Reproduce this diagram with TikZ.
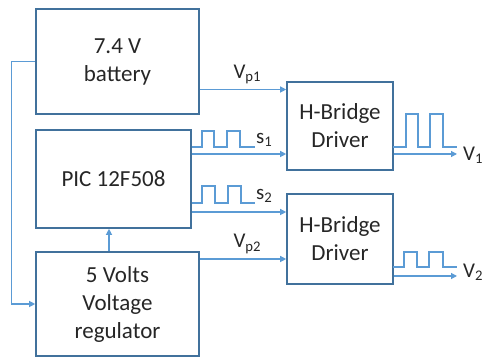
\documentclass[tikz,border=0pt]{standalone}
\usepackage{fontspec}
\setmainfont{Carlito}
\usetikzlibrary{arrows.meta}
\definecolor{boxc}{HTML}{41719C}
\definecolor{linec}{HTML}{5B9BD5}
\definecolor{txt}{HTML}{262626}
\tikzset{
  blk/.style={draw=boxc, line width=1.6pt, minimum width=#1, align=center, text=txt, font=\fontsize{23}{28}\selectfont, inner sep=0pt},
  conn/.style={draw=linec, line width=1.2pt},
  arr/.style={conn, -{Triangle[length=6pt,width=6pt]}},
  pulse/.style={draw=linec, line width=1.1pt},
  lbl/.style={text=txt, font=\fontsize{21}{24}\selectfont, inner sep=0pt}
}
\begin{document}
\begin{tikzpicture}[x=1pt,y=-1pt]
\useasboundingbox (0,0) rectangle (488,358);
\node[blk=163pt, minimum height=105pt] (bat) at (117.5,61.5) {7.4 V\\battery};
\node[blk=155pt, minimum height=98pt] (pic) at (113.5,179) {PIC 12F508};
\node[blk=163pt, minimum height=104pt] (reg) at (117.5,304) {5 Volts\\Voltage\\regulator};
\node[blk=106pt, minimum height=88pt] (hb1) at (340,126) {H-Bridge\\Driver};
\node[blk=106pt, minimum height=90pt] (hb2) at (340,239) {H-Bridge\\Driver};
% supply
\draw[arr] (bat.west) -- ++(-24,0) |- (reg.west);
\draw[arr] ([xshift=-8.5pt]reg.north) -- ([xshift=-8.5pt]reg.north |- pic.south);
\draw[arr] ([yshift=-28pt]bat.east) -- ([yshift=-28pt]bat.east -| hb1.west) node[lbl, pos=0.55, above=5pt] {V\textsubscript{p1}};
\draw[arr] ([yshift=45pt]reg.east) -- ([yshift=45pt]reg.east -| hb2.west) node[lbl, pos=0.55, above=5pt] {V\textsubscript{p2}};
% signals
\draw[arr] ([yshift=25pt]pic.east) -- ([yshift=25pt]pic.east -| hb1.west);
\draw[arr] ([yshift=-33pt]pic.east) -- ([yshift=-33pt]pic.east -| hb2.west);
\coordinate (v1) at (457,154);
\coordinate (v2) at (457,276);
\draw[arr] ([yshift=-28pt]hb1.east) -- (v1);
\draw[arr] ([yshift=-37pt]hb2.east) -- (v2);
% pulses
\draw[pulse] (192,147) -- (202,147) -- (202,131) -- (214,131) -- (214,147) -- (227,147) -- (227,131) -- (240,131) -- (240,147) -- (255,147);
\draw[pulse] (192,203) -- (202,203) -- (202,186) -- (215,186) -- (215,203) -- (228,203) -- (228,186) -- (241,186) -- (241,203) -- (255,203);
\draw[pulse] (393,147) -- (406,147) -- (406,114) -- (418,114) -- (418,147) -- (430,147) -- (430,114) -- (443,114) -- (443,147) -- (457,147);
\draw[pulse] (393,267) -- (404,267) -- (404,252) -- (417,252) -- (417,267) -- (429,267) -- (429,252) -- (443,252) -- (443,267) -- (457,267);
% labels
\node[lbl, anchor=west] (s1) at (256,140) {s\textsubscript{1}};
\node[lbl, anchor=west] (s2) at (256,196) {s\textsubscript{2}};
\node[lbl, anchor=west] (lv1) at (463,155) {V\textsubscript{1}};
\node[lbl, anchor=west] (lv2) at (463,272) {V\textsubscript{2}};
\end{tikzpicture}
\end{document}
